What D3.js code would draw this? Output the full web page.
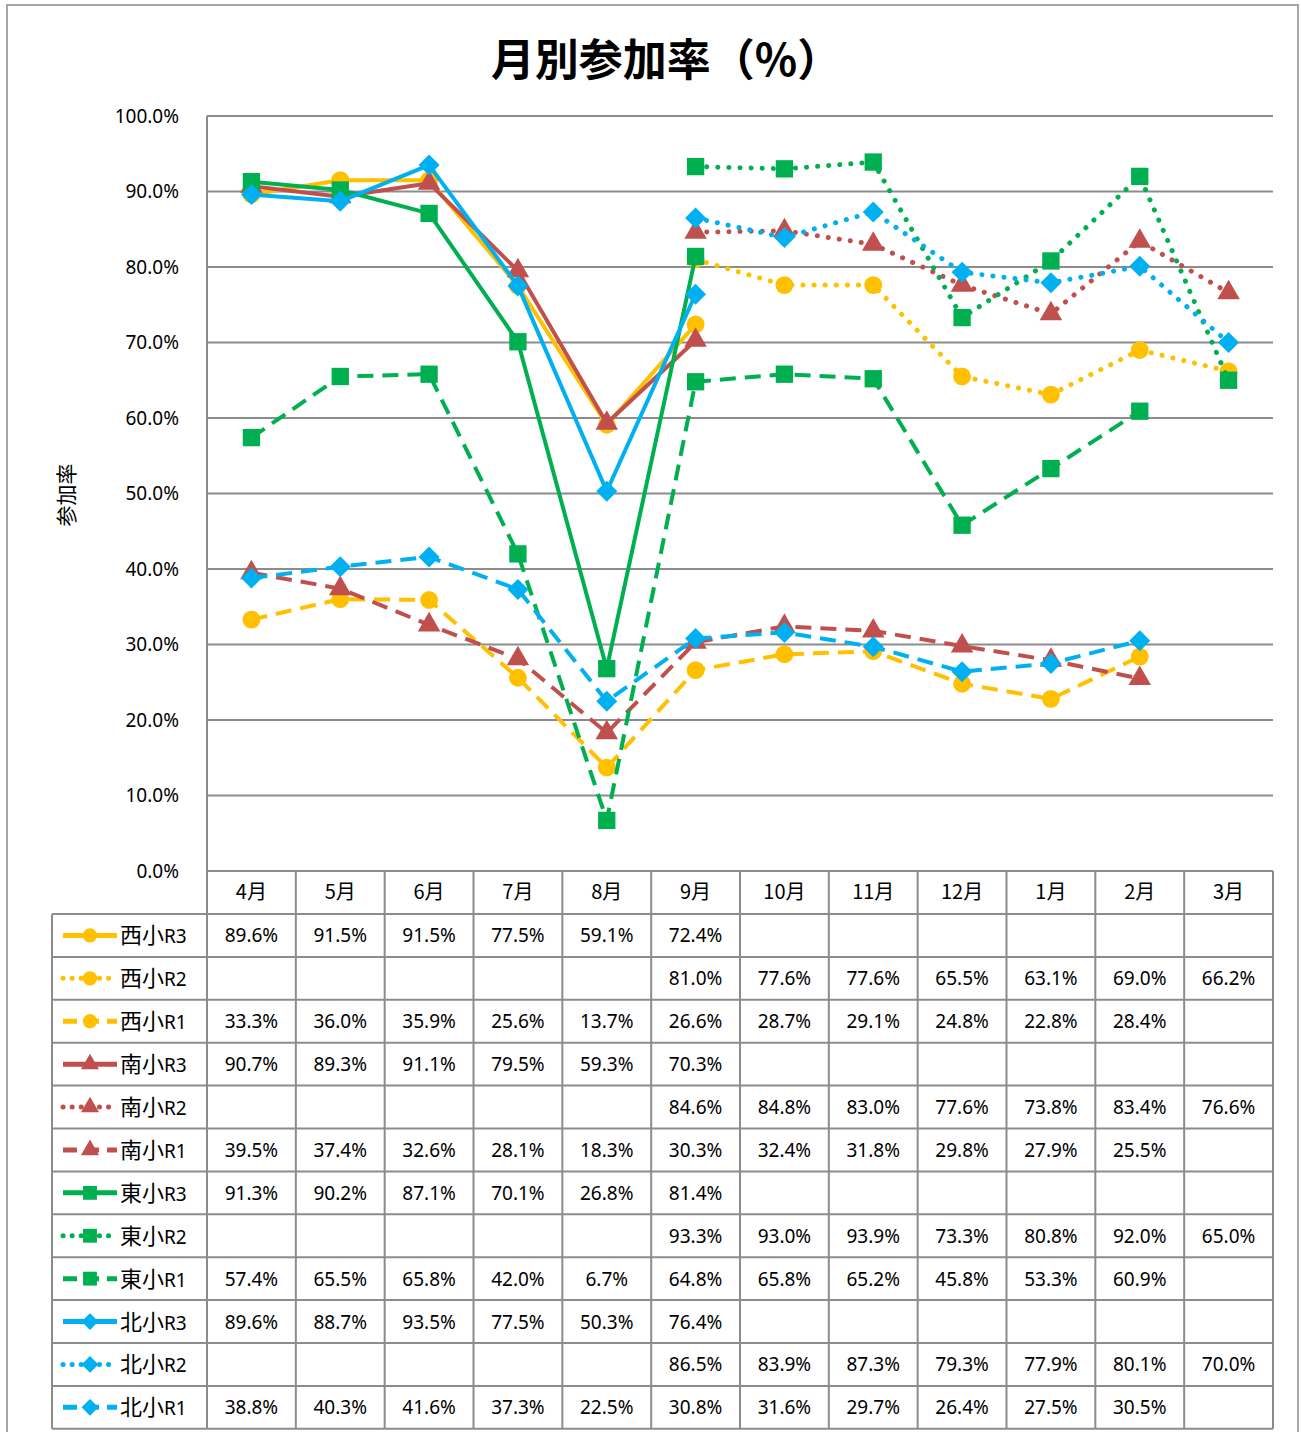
<!DOCTYPE html>
<html lang="ja">
<head>
<meta charset="utf-8">
<title>月別参加率</title>
<script src="https://cdn.jsdelivr.net/npm/d3@7"></script>
<style>
  body { margin: 0; background: #fff; }
  svg text { font-family: "Noto Sans CJK JP", "Noto Sans", sans-serif; fill: #000; }
</style>
</head>
<body>
<div id="chart"></div>
<script>
// months and the y ticks
var months = ['4月', '5月', '6月', '7月', '8月', '9月', '10月', '11月', '12月', '1月', '2月', '3月'];
var yTicks = [0, 0.1, 0.2, 0.3, 0.4, 0.5, 0.6, 0.7, 0.8, 0.9, 1.0];

// values in %, null = blank cell
var nishiR3 = [89.6, 91.5, 91.5, 77.5, 59.1, 72.4, null, null, null, null, null, null];
var nishiR2 = [null, null, null, null, null, 81.0, 77.6, 77.6, 65.5, 63.1, 69.0, 66.2];
var nishiR1 = [33.3, 36.0, 35.9, 25.6, 13.7, 26.6, 28.7, 29.1, 24.8, 22.8, 28.4, null];
var minamiR3 = [90.7, 89.3, 91.1, 79.5, 59.3, 70.3, null, null, null, null, null, null];
var minamiR2 = [null, null, null, null, null, 84.6, 84.8, 83.0, 77.6, 73.8, 83.4, 76.6];
var minamiR1 = [39.5, 37.4, 32.6, 28.1, 18.3, 30.3, 32.4, 31.8, 29.8, 27.9, 25.5, null];
var higashiR3 = [91.3, 90.2, 87.1, 70.1, 26.8, 81.4, null, null, null, null, null, null];
var higashiR2 = [null, null, null, null, null, 93.3, 93.0, 93.9, 73.3, 80.8, 92.0, 65.0];
var higashiR1 = [57.4, 65.5, 65.8, 42.0, 6.7, 64.8, 65.8, 65.2, 45.8, 53.3, 60.9, null];
var kitaR3 = [89.6, 88.7, 93.5, 77.5, 50.3, 76.4, null, null, null, null, null, null];
var kitaR2 = [null, null, null, null, null, 86.5, 83.9, 87.3, 79.3, 77.9, 80.1, 70.0];
var kitaR1 = [38.8, 40.3, 41.6, 37.3, 22.5, 30.8, 31.6, 29.7, 26.4, 27.5, 30.5, null];

var seriesNames = ['西小', '西小', '西小', '南小', '南小', '南小', '東小', '東小', '東小', '北小', '北小', '北小'];
var seriesTags = ['R3', 'R2', 'R1', 'R3', 'R2', 'R1', 'R3', 'R2', 'R1', 'R3', 'R2', 'R1'];

var colors = { yellow: '#FFC000', red: '#C0504D', green: '#00B050', blue: '#00B0F0' };

var series = [
  { name: seriesNames[0], tag: seriesTags[0], values: nishiR3, color: colors.yellow, dash: 'solid', marker: 'circle' },
  { name: seriesNames[1], tag: seriesTags[1], values: nishiR2, color: colors.yellow, dash: 'dot', marker: 'circle' },
  { name: seriesNames[2], tag: seriesTags[2], values: nishiR1, color: colors.yellow, dash: 'dash', marker: 'circle' },
  { name: seriesNames[3], tag: seriesTags[3], values: minamiR3, color: colors.red, dash: 'solid', marker: 'triangle' },
  { name: seriesNames[4], tag: seriesTags[4], values: minamiR2, color: colors.red, dash: 'dot', marker: 'triangle' },
  { name: seriesNames[5], tag: seriesTags[5], values: minamiR1, color: colors.red, dash: 'dash', marker: 'triangle' },
  { name: seriesNames[6], tag: seriesTags[6], values: higashiR3, color: colors.green, dash: 'solid', marker: 'square' },
  { name: seriesNames[7], tag: seriesTags[7], values: higashiR2, color: colors.green, dash: 'dot', marker: 'square' },
  { name: seriesNames[8], tag: seriesTags[8], values: higashiR1, color: colors.green, dash: 'dash', marker: 'square' },
  { name: seriesNames[9], tag: seriesTags[9], values: kitaR3, color: colors.blue, dash: 'solid', marker: 'diamond' },
  { name: seriesNames[10], tag: seriesTags[10], values: kitaR2, color: colors.blue, dash: 'dot', marker: 'diamond' },
  { name: seriesNames[11], tag: seriesTags[11], values: kitaR1, color: colors.blue, dash: 'dash', marker: 'diamond' }
];

var W = 1301, H = 1432;
var plotLeft = 207, plotRight = 1273, plotTop = 116, plotBottom = 871;
var tableLeft = 52, rowTop = 914, rowH = 42.9;
var gridColor = '#8c8c8c';

var svg = d3.select('#chart').append('svg')
  .attr('width', W)
  .attr('height', H);

// outer chart frame
svg.append('rect')
  .attr('x', 7).attr('y', 5)
  .attr('width', 1291).attr('height', 1460)
  .attr('fill', 'none')
  .attr('stroke', '#a6a6a6')
  .attr('stroke-width', 2);

var x = d3.scaleBand().domain(months).range([plotLeft, plotRight]);
var y = d3.scaleLinear().domain([0, 1]).range([plotBottom, plotTop]);

// title
svg.append('text')
  .attr('x', 666).attr('y', 76)
  .attr('text-anchor', 'middle')
  .style('font-size', '44px')
  .style('font-weight', 'bold')
  .text('月別参加率（%）');

// y axis title
svg.append('text')
  .attr('transform', 'translate(74,' + 495 + ') rotate(-90)')
  .attr('text-anchor', 'middle')
  .style('font-size', '21px')
  .text('参加率');

// gridlines
svg.append('g').selectAll('line')
  .data(yTicks.slice(1))
  .enter().append('line')
  .attr('x1', plotLeft).attr('x2', plotRight)
  .attr('y1', function(d) { return y(d); })
  .attr('y2', function(d) { return y(d); })
  .attr('stroke', gridColor)
  .attr('stroke-width', 2);

// y axis (labels only, Excel style)
var yAxis = d3.axisLeft(y)
  .tickValues(yTicks)
  .tickFormat(d3.format('.1%'))
  .tickSize(0)
  .tickPadding(28);

var yg = svg.append('g')
  .attr('transform', 'translate(' + plotLeft + ',0)')
  .call(yAxis);
yg.select('.domain').remove();
yg.selectAll('text')
  .style('font-family', '"Noto Sans", sans-serif')
  .style('font-size', '19px')
  .attr('fill', '#000');

// table lines
var tableBottom = rowTop + rowH * 12;
var lines = svg.append('g').attr('stroke', gridColor).attr('stroke-width', 2);

// vertical: plot-left line running through the table
lines.append('line')
  .attr('x1', plotLeft).attr('x2', plotLeft)
  .attr('y1', plotTop).attr('y2', tableBottom);
// column separators from the x axis down
months.forEach(function(m) {
  lines.append('line')
    .attr('x1', x(m) + x.bandwidth()).attr('x2', x(m) + x.bandwidth())
    .attr('y1', plotBottom).attr('y2', tableBottom);
});
lines.append('line')
  .attr('x1', tableLeft).attr('x2', tableLeft)
  .attr('y1', rowTop).attr('y2', tableBottom);
// horizontal
lines.append('line')
  .attr('x1', plotLeft).attr('x2', plotRight)
  .attr('y1', plotBottom).attr('y2', plotBottom);
d3.range(13).forEach(function(i) {
  lines.append('line')
    .attr('x1', tableLeft).attr('x2', plotRight)
    .attr('y1', rowTop + i * rowH).attr('y2', rowTop + i * rowH);
});

// header months
svg.append('g').selectAll('text')
  .data(months)
  .enter().append('text')
  .attr('x', function(d) { return x(d) + x.bandwidth() / 2; })
  .attr('y', 899)
  .attr('text-anchor', 'middle')
  .style('font-size', '20px')
  .text(function(d) { return d; });

function dashArray(kind) {
  if (kind === 'dot') return '0.1 11';
  if (kind === 'dash') return '16 9';
  return null;
}

function markerPath(kind) {
  if (kind === 'circle') return d3.symbol(d3.symbolCircle, 250)();
  if (kind === 'square') return d3.symbol(d3.symbolSquare, 300)();
  if (kind === 'triangle') return d3.symbol(d3.symbolTriangle, 220)();
  // square diamond, equal width and height
  var r = 10.5;
  return 'M0,' + (-r) + 'L' + r + ',0L0,' + r + 'L' + (-r) + ',0Z';
}

var line = d3.line()
  .defined(function(d) { return d != null; })
  .x(function(d, i) { return x(months[i]) + x.bandwidth() / 2; })
  .y(function(d) { return y(d / 100); });

// series lines + markers
series.forEach(function(s) {
  var g = svg.append('g');
  g.append('path')
    .attr('d', line(s.values))
    .attr('fill', 'none')
    .attr('stroke', s.color)
    .attr('stroke-width', s.dash === 'dot' ? 5 : 4)
    .attr('stroke-linecap', s.dash === 'dot' ? 'round' : 'butt')
    .attr('stroke-linejoin', 'round')
    .attr('stroke-dasharray', dashArray(s.dash));
  g.selectAll('path.mk')
    .data(s.values.map(function(v, i) { return { v: v, i: i }; }).filter(function(d) { return d.v != null; }))
    .enter().append('path')
    .attr('class', 'mk')
    .attr('d', markerPath(s.marker))
    .attr('transform', function(d) {
      return 'translate(' + (x(months[d.i]) + x.bandwidth() / 2) + ',' + y(d.v / 100) + ')';
    })
    .attr('fill', s.color);
});

// table rows: legend key + values
series.forEach(function(s, r) {
  var cy = rowTop + rowH * r + rowH / 2;
  var g = svg.append('g');
  g.append('line')
    .attr('x1', 63).attr('x2', 117)
    .attr('y1', cy).attr('y2', cy)
    .attr('stroke', s.color)
    .attr('stroke-width', 5)
    .attr('stroke-linecap', s.dash === 'dot' ? 'round' : 'butt')
    .attr('stroke-dasharray', s.dash === 'dot' ? '0.1 9' : (s.dash === 'dash' ? '14 8' : null));
  g.append('path')
    .attr('d', markerPath(s.marker))
    .attr('transform', 'translate(90,' + cy + ') scale(0.8)')
    .attr('fill', s.color);
  var t = g.append('text')
    .attr('x', 120).attr('y', cy + 8);
  t.append('tspan').style('font-size', '22px').text(s.name);
  t.append('tspan').style('font-size', '19px').style('font-family', '"Noto Sans", sans-serif').text(s.tag);

  g.selectAll('text.v')
    .data(s.values.map(function(v, i) { return { v: v, i: i }; }).filter(function(d) { return d.v != null; }))
    .enter().append('text')
    .attr('class', 'v')
    .attr('x', function(d) { return x(months[d.i]) + x.bandwidth() / 2; })
    .attr('y', cy + 7)
    .attr('text-anchor', 'middle')
    .style('font-family', '"Noto Sans", sans-serif')
    .style('font-size', '19px')
    .text(function(d) { return d.v.toFixed(1) + '%'; });
});
</script>
</body>
</html>
